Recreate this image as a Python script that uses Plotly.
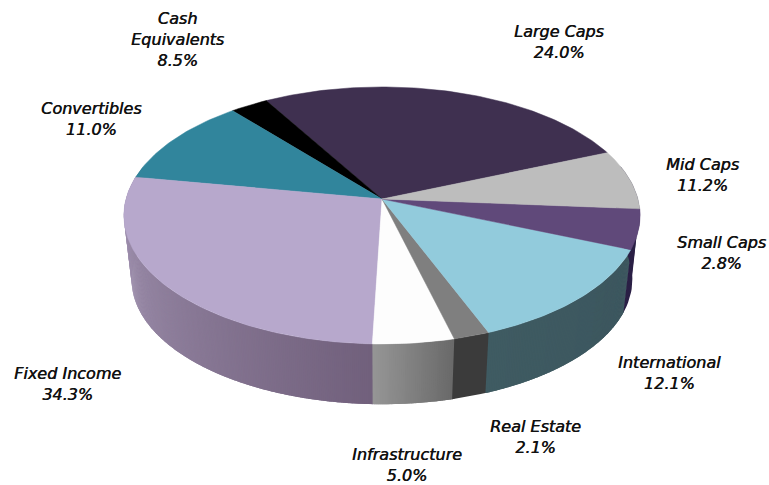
import math
import plotly.graph_objects as go

# Slice names, printed labels and the share of the circle each slice occupies as drawn
categories = ["Large Caps", "Cash Equivalents", "Convertibles", "Fixed Income", "Infrastructure",
              "Real Estate", "International", "Small Caps", "Mid Caps"]
printed_pct = ["24.0%", "8.5%", "11.0%", "34.3%", "5.0%", "2.1%", "12.1%", "2.8%", "11.2%"]
drawn_share = [27.1, 2.7, 11.1, 27.3, 4.5, 2.0, 12.8, 5.0, 7.5]

top_colors = ["#3f3050", "#000000", "#31859c", "#b7a8cc", "#fdfdfd", "#7f7f7f", "#92cbdc", "#60497a", "#bdbdbd"]
wall_from = ["#2f243c", "#000000", "#24636f", "#a99bb9", "#969696", "#3b3b3b", "#3f5b62", "#2a1f45", "#2a1f45"]
wall_to = ["#2f243c", "#000000", "#24636f", "#71607c", "#696969", "#3b3b3b", "#3c565e", "#2a1f45", "#2a1f45"]

label_text = ["Large Caps", "Cash<br>Equivalents", "Convertibles", "Fixed Income", "Infrastructure",
              "Real Estate", "International", "Small Caps", "Mid Caps"]
label_x = [559, 177, 91, 67, 407, 535, 669, 721, 702]
label_y = [42, 39, 119, 384, 465, 437, 373, 253, 175]

START_DEG = 22.6
CX, TOP_CY, BOT_CY = 382, 199, 263.6
A, B, K, BOT_SCALE = 256, 126.4, 0.128, 0.97


def project(deg, cy=TOP_CY, scale=1.0):
    u, v = math.cos(math.radians(deg)), math.sin(math.radians(deg))
    w = 1 + K * v
    return CX + scale * A * u / w, cy - scale * B * v / w


def hex_mix(c1, c2, t):
    a = [int(c1[i:i + 2], 16) for i in (1, 3, 5)]
    b = [int(c2[i:i + 2], 16) for i in (1, 3, 5)]
    return "#%02x%02x%02x" % tuple(round(p + (q - p) * t) for p, q in zip(a, b))


# Slice angle bounds, counter-clockwise from the start angle
bounds = []
angle = START_DEG
for share in drawn_share:
    bounds.append((angle, angle + share * 3.6))
    angle += share * 3.6

fig = go.Figure()

# Outer wall: visible only on the front half; every strip slightly overlaps the next one
wall_strips = []
for i, (a0, a1) in enumerate(bounds):
    for wrap in (0, 360):
        s, e = max(a0 + wrap, 165), min(a1 + wrap, 375)
        if e <= s:
            continue
        flat = wall_from[i] == wall_to[i]
        n = 1 if flat else max(1, int((e - s) / 0.4))
        for k in range(n):
            d0 = s + (e - s) * k / n
            d1 = s + (e - s) * (k + 1) / n
            wall_strips.append((d0, d1, hex_mix(wall_from[i], wall_to[i], (k + 0.5) / n)))
wall_strips.sort()
for d0, d1, col in wall_strips:
    d1 += 0.5
    steps = max(1, int((d1 - d0) / 1.5))
    arc = [d0 + (d1 - d0) * j / steps for j in range(steps + 1)]
    p = [project(d) for d in arc] + [project(d, BOT_CY, BOT_SCALE) for d in reversed(arc)]
    fig.add_trace(go.Scatter(
        x=[q[0] for q in p] + [p[0][0]], y=[q[1] for q in p] + [p[0][1]],
        mode="lines", fill="toself", fillcolor=col,
        line=dict(width=0), hoverinfo="skip", showlegend=False))

# Top faces
for i, (a0, a1) in enumerate(bounds):
    n = max(4, int((a1 - a0) / 1.0))
    pts = [project(a0 + (a1 - a0) * k / n) for k in range(n + 1)]
    xs = [CX] + [q[0] for q in pts] + [CX]
    ys = [TOP_CY] + [q[1] for q in pts] + [TOP_CY]
    fig.add_trace(go.Scatter(
        x=xs, y=ys, mode="lines", fill="toself", fillcolor=top_colors[i],
        line=dict(color=top_colors[i], width=0.5), name=categories[i],
        text=f"{categories[i]} {printed_pct[i]}", hoverinfo="text", showlegend=False))

for txt, pct, lx, ly in zip(label_text, printed_pct, label_x, label_y):
    fig.add_annotation(
        x=lx, y=ly, xref="x", yref="y", text=f"{txt}<br>{pct}", showarrow=False,
        xanchor="center", yanchor="middle", align="center",
        font=dict(family="DejaVu Sans", size=16, color="#111111", style="italic",
                  shadow="0.5px 0 0 #111111"))

fig.update_layout(
    width=769, height=485, margin=dict(l=0, r=0, t=0, b=0),
    paper_bgcolor="white", plot_bgcolor="white",
    xaxis=dict(range=[0, 769], visible=False, fixedrange=True),
    yaxis=dict(range=[485, 0], visible=False, fixedrange=True),
)
fig.write_html("out.html", config={"displayModeBar": False},
               post_script="document.body.style.margin='0';document.body.style.overflow='hidden';")
